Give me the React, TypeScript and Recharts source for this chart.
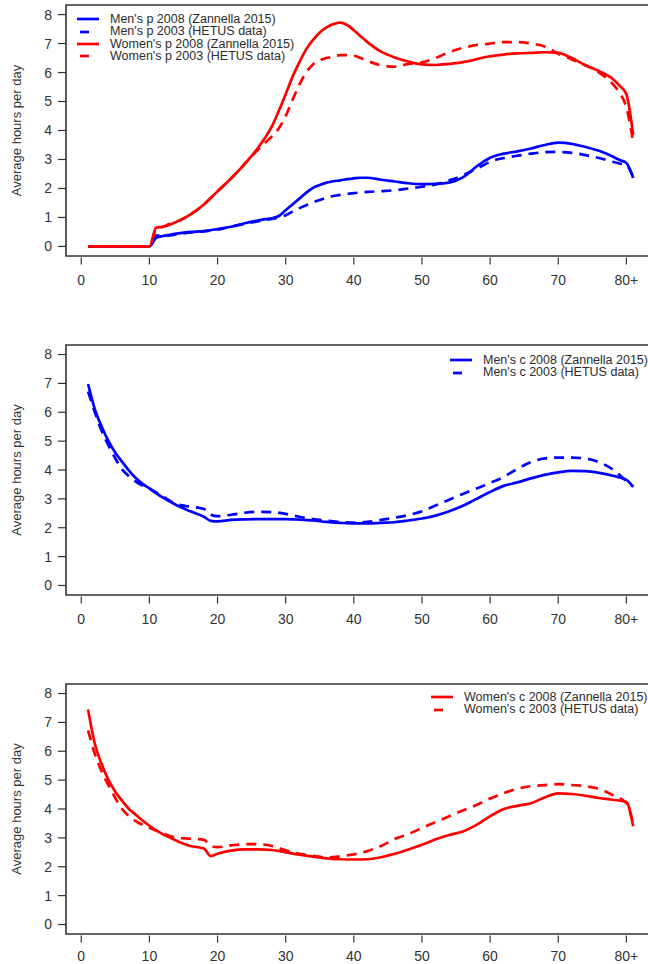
import { LineChart, Line, XAxis, YAxis, ReferenceArea, Legend } from "recharts";

// ages on the x axis (81 = "80+")
const P_AGES = [1, 10, 11, 12, 13, 14, 16, 18, 20, 22, 24, 26, 27, 28, 29, 30, 31, 32, 33, 34, 35, 36, 37, 38, 39, 40, 41, 42, 44, 46, 48, 50, 52, 54, 56, 57, 58, 59, 60, 62, 64, 66, 68, 70, 72, 74, 76, 78, 79, 80, 81];
const MEN_P_2008 = [0, 0, 0.3, 0.36, 0.4, 0.44, 0.5, 0.53, 0.6, 0.68, 0.8, 0.9, 0.94, 0.97, 1.05, 1.25, 1.45, 1.65, 1.85, 2.02, 2.12, 2.2, 2.25, 2.28, 2.32, 2.35, 2.37, 2.37, 2.3, 2.24, 2.18, 2.15, 2.16, 2.2, 2.38, 2.55, 2.76, 2.92, 3.06, 3.2, 3.28, 3.38, 3.5, 3.58, 3.54, 3.43, 3.3, 3.1, 2.98, 2.88, 2.36];
const MEN_P_2003 = [0, 0, 0.38, 0.35, 0.38, 0.42, 0.48, 0.52, 0.58, 0.68, 0.78, 0.87, 0.91, 0.95, 1.0, 1.08, 1.2, 1.32, 1.42, 1.52, 1.6, 1.68, 1.74, 1.78, 1.81, 1.84, 1.86, 1.88, 1.91, 1.94, 2.0, 2.06, 2.14, 2.28, 2.45, 2.57, 2.68, 2.8, 2.92, 3.05, 3.13, 3.2, 3.25, 3.26, 3.23, 3.15, 3.05, 2.92, 2.86, 2.8, 2.4];
const WOMEN_P_2008 = [0, 0, 0.65, 0.68, 0.75, 0.85, 1.1, 1.45, 1.9, 2.35, 2.85, 3.42, 3.76, 4.15, 4.68, 5.25, 5.85, 6.35, 6.8, 7.12, 7.38, 7.56, 7.67, 7.72, 7.64, 7.46, 7.25, 7.05, 6.72, 6.52, 6.38, 6.28, 6.26, 6.3, 6.36, 6.4, 6.46, 6.52, 6.56, 6.62, 6.66, 6.68, 6.7, 6.68, 6.5, 6.25, 6.05, 5.78, 5.55, 5.25, 3.85];
const WOMEN_P_2003 = [0, 0, 0.6, 0.68, 0.78, 0.85, 1.1, 1.45, 1.9, 2.35, 2.85, 3.35, 3.58, 3.8, 4.08, 4.5, 5.05, 5.58, 6.0, 6.28, 6.42, 6.5, 6.55, 6.6, 6.6, 6.58, 6.5, 6.4, 6.25, 6.2, 6.3, 6.35, 6.5, 6.7, 6.85, 6.9, 6.95, 6.97, 7.0, 7.05, 7.05, 7.0, 6.9, 6.65, 6.45, 6.25, 6.0, 5.6, 5.3, 4.8, 3.6];

const C_AGES = [1, 2, 3, 4, 5, 6, 7, 8, 9, 10, 12, 14, 16, 18, 19, 20, 22, 24, 26, 28, 30, 32, 34, 36, 38, 40, 42, 44, 46, 48, 50, 52, 54, 56, 58, 60, 62, 64, 66, 68, 70, 72, 74, 76, 78, 80, 81];
const MEN_C_2008 = [6.98, 6.1, 5.5, 5.0, 4.6, 4.28, 3.98, 3.72, 3.52, 3.36, 3.04, 2.78, 2.57, 2.38, 2.24, 2.22, 2.27, 2.29, 2.3, 2.3, 2.3, 2.28, 2.25, 2.2, 2.17, 2.15, 2.15, 2.17, 2.19, 2.25, 2.32, 2.42, 2.57, 2.76, 3.0, 3.24, 3.45, 3.57, 3.71, 3.83, 3.92, 3.97, 3.96, 3.9, 3.8, 3.66, 3.42];
const MEN_C_2003 = [6.72, 6.0, 5.35, 4.85, 4.4, 4.02, 3.78, 3.6, 3.46, 3.35, 3.08, 2.82, 2.73, 2.65, 2.45, 2.4, 2.45, 2.52, 2.55, 2.54, 2.48, 2.38, 2.3, 2.25, 2.2, 2.18, 2.2, 2.27, 2.35, 2.44, 2.57, 2.77, 2.97, 3.17, 3.36, 3.55, 3.76, 4.04, 4.27, 4.4, 4.43, 4.43, 4.4, 4.27, 4.02, 3.62, 3.42];
const WOMEN_C_2008 = [7.45, 6.25, 5.55, 5.0, 4.6, 4.28, 4.0, 3.8, 3.6, 3.42, 3.12, 2.9, 2.72, 2.63, 2.37, 2.45, 2.56, 2.6, 2.6, 2.58, 2.5, 2.42, 2.35, 2.29, 2.26, 2.25, 2.26, 2.33, 2.45, 2.6, 2.76, 2.95, 3.1, 3.22, 3.45, 3.75, 4.0, 4.11, 4.2, 4.4, 4.54, 4.52, 4.46, 4.38, 4.32, 4.24, 3.4];
const WOMEN_C_2003 = [6.72, 5.9, 5.3, 4.82, 4.38, 4.0, 3.75, 3.58, 3.45, 3.35, 3.15, 3.0, 2.97, 2.93, 2.72, 2.68, 2.74, 2.78, 2.78, 2.72, 2.57, 2.45, 2.38, 2.32, 2.36, 2.43, 2.54, 2.72, 2.96, 3.13, 3.34, 3.55, 3.75, 3.95, 4.14, 4.36, 4.55, 4.7, 4.79, 4.83, 4.86, 4.83, 4.79, 4.7, 4.48, 4.2, 3.5];

const X_TICKS = [0, 10, 20, 30, 40, 50, 60, 70, 80];
const Y_TICKS = [0, 1, 2, 3, 4, 5, 6, 7, 8];
const X_DOMAIN = [-2.24, 84.2];
const Y_DOMAIN = [-0.33, 8.33];

const FONT = '"Liberation Sans", Arial, sans-serif';
const BLUE = "#0000ff";
const RED = "#ff0000";
const DASH = "10 7";

type SeriesDef = { key: string; name: string; color: string; dashed: boolean; values: number[] };

const LegendBox = ({ payload }: any) => {
  if (!payload) return null;
  return (
    <div style={{ fontFamily: FONT, fontSize: 12.5, color: "#2b2b2b" }}>
      {payload.map((entry: any, i: number) => {
        const dashed = String(entry.value).includes("2003");
        return (
          <div key={`lg-${i}`} style={{ display: "flex", alignItems: "center", height: 12.4, lineHeight: "12.4px", whiteSpace: "nowrap" }}>
            <svg width={33} height={8} style={{ flexShrink: 0 }}>
              {dashed ? (
                <line x1={3} x2={12} y1={4} y2={4} stroke={entry.color} strokeWidth={2.7} />
              ) : (
                <line x1={0} x2={22} y1={4} y2={4} stroke={entry.color} strokeWidth={2.7} />
              )}
            </svg>
            <span>{entry.value}</span>
          </div>
        );
      })}
    </div>
  );
};

function Panel({ top, ages, series, legendLeft, legendTop, plotHeight, labelGap }: { top: number; ages: number[]; series: SeriesDef[]; legendLeft: number; legendTop: number; plotHeight: number; labelGap: number }) {
  const data = ages.map((age, i) => {
    const row: Record<string, number> = { age };
    series.forEach((s) => {
      row[s.key] = s.values[i];
    });
    return row;
  });
  const order = series.map((s) => s.key);
  const tickStyle = { fill: "#333", fontSize: 14, fontFamily: FONT };

  return (
    <div style={{ position: "absolute", left: 0, top }}>
      <LineChart width={655} height={5 + plotHeight + 44} data={data} margin={{ top: 5, right: 0, bottom: 0, left: 0 }}>
        <XAxis
          dataKey="age"
          type="number"
          domain={X_DOMAIN}
          allowDataOverflow
          ticks={X_TICKS}
          interval={0}
          tickFormatter={(v: number) => (v === 80 ? "80+" : String(v))}
          axisLine={false}
          tickLine={{ stroke: "#333", strokeWidth: 1.2, transform: "translate(0, 1.5)" }}
          tickSize={7}
          tickMargin={labelGap}
          height={44}
          tick={tickStyle}
        />
        <YAxis
          type="number"
          domain={Y_DOMAIN}
          allowDataOverflow
          ticks={Y_TICKS}
          interval={0}
          axisLine={false}
          tickLine={{ stroke: "#333", strokeWidth: 1.2 }}
          tickSize={8}
          tickMargin={6}
          width={66}
          tick={tickStyle}
          label={{ value: "Average hours per day", angle: -90, position: "center", dx: -17, style: { fill: "#333", fontSize: 13, fontFamily: FONT } }}
        />
        <ReferenceArea x1={X_DOMAIN[0]} x2={X_DOMAIN[1]} y1={Y_DOMAIN[0]} y2={Y_DOMAIN[1]} fill="none" stroke="#333" strokeWidth={1.6} ifOverflow="visible" />
        {series.map((s) => (
          <Line
            key={s.key}
            type="monotone"
            dataKey={s.key}
            name={s.name}
            stroke={s.color}
            strokeWidth={2.7}
            strokeDasharray={s.dashed ? DASH : undefined}
            dot={false}
            isAnimationActive={false}
          />
        ))}
        <Legend
          layout="vertical"
          align="center"
          verticalAlign="middle"
          itemSorter={(item: any) => order.indexOf(item.dataKey)}
          wrapperStyle={{ left: legendLeft, top: legendTop, width: "auto" }}
          content={LegendBox}
        />
      </LineChart>
    </div>
  );
}

export default function App() {
  const pSeries: SeriesDef[] = [
    { key: "m08", name: "Men's p 2008 (Zannella 2015)", color: BLUE, dashed: false, values: MEN_P_2008 },
    { key: "m03", name: "Men's p 2003 (HETUS data)", color: BLUE, dashed: true, values: MEN_P_2003 },
    { key: "w08", name: "Women's p 2008 (Zannella 2015)", color: RED, dashed: false, values: WOMEN_P_2008 },
    { key: "w03", name: "Women's p 2003 (HETUS data)", color: RED, dashed: true, values: WOMEN_P_2003 },
  ];
  const mcSeries: SeriesDef[] = [
    { key: "m08", name: "Men's c 2008 (Zannella 2015)", color: BLUE, dashed: false, values: MEN_C_2008 },
    { key: "m03", name: "Men's c 2003 (HETUS data)", color: BLUE, dashed: true, values: MEN_C_2003 },
  ];
  const wcSeries: SeriesDef[] = [
    { key: "w08", name: "Women's c 2008 (Zannella 2015)", color: RED, dashed: false, values: WOMEN_C_2008 },
    { key: "w03", name: "Women's c 2003 (HETUS data)", color: RED, dashed: true, values: WOMEN_C_2003 },
  ];

  return (
    <div style={{ position: "absolute", left: 0, top: 0, width: 648, height: 964, overflow: "hidden", background: "#fff" }}>
      <Panel top={0} ages={P_AGES} series={pSeries} legendLeft={77} legendTop={13} plotHeight={251} labelGap={12} />
      <Panel top={340} ages={C_AGES} series={mcSeries} legendLeft={450} legendTop={14} plotHeight={250} labelGap={12} />
      <Panel top={679} ages={C_AGES} series={wcSeries} legendLeft={431} legendTop={12} plotHeight={250} labelGap={10} />
    </div>
  );
}
